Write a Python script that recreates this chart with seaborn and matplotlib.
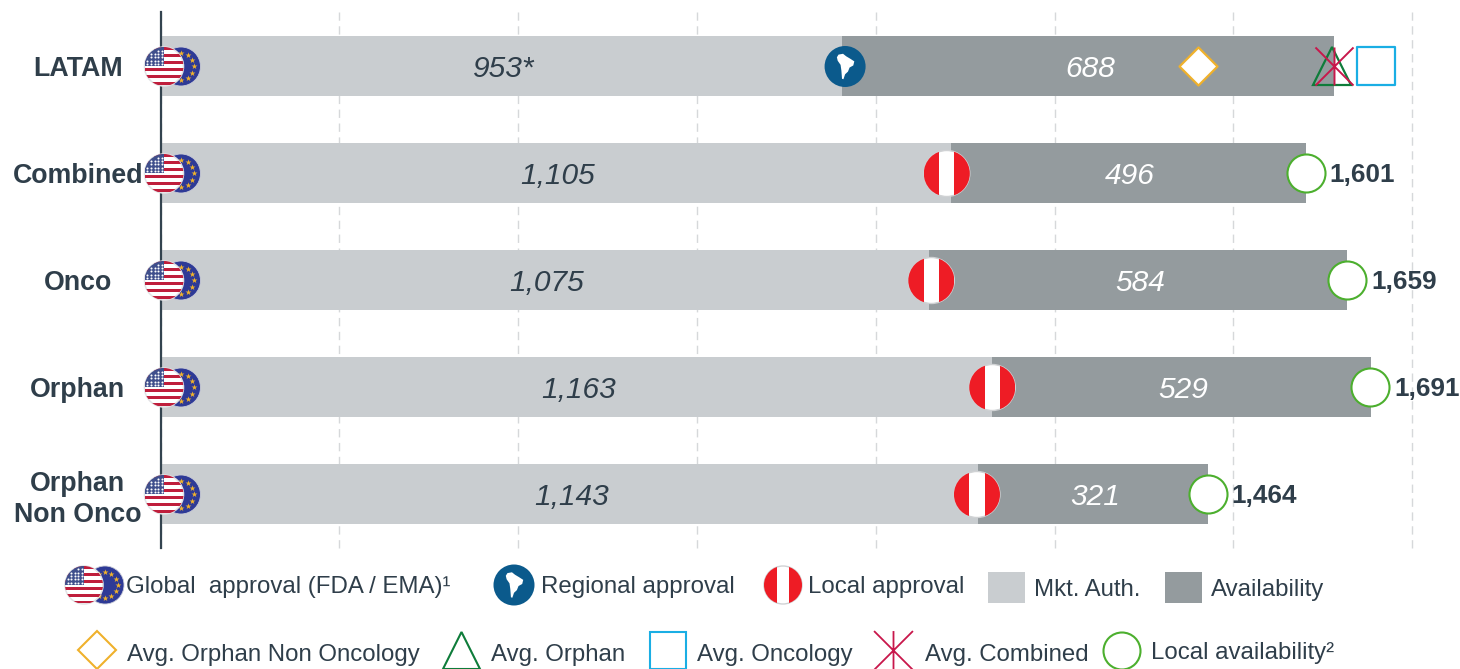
import numpy as np
import pandas as pd
import matplotlib
matplotlib.use("Agg")
import matplotlib.pyplot as plt
import seaborn as sns
from matplotlib.patches import Circle, Polygon, Rectangle
from matplotlib.path import Path

# ---------- data ----------
categories = ["LATAM", "Combined", "Onco", "Orphan", "Orphan\nNon Onco"]
mkt_auth = [953, 1105, 1075, 1163, 1143]
availability = [688, 496, 584, 529, 321]
mkt_labels = ["953*", "1,105", "1,075", "1,163", "1,143"]
avail_labels = ["688", "496", "584", "529", "321"]
totals = [1601, 1659, 1691, 1464]
total_labels = ["1,601", "1,659", "1,691", "1,464"]
avg_orphan_non_onco = 1451
avg_orphan = 1638
avg_oncology = 1699
avg_combined = 1641
x_ticks = [0, 250, 500, 750, 1000, 1250, 1500, 1750]

# ---------- style ----------
W, H = 1460, 669
C_MA, C_AV = "#C9CDD0", "#949B9E"
C_TXT = "#2F3E4A"
C_DIA, C_TRI, C_SQ, C_X, C_CIR = "#EFB12C", "#0E7C3A", "#1AAEE4", "#C8174B", "#4CAF2E"
FONT = "Liberation Sans"
PEAK = Path([(-.5, -.5), (.5, .5), (-.5, .5), (.5, -.5), (0, -.5), (0, .5)],
            [1, 2, 1, 2, 1, 2])

sns.set_theme(style="white")
plt.rcParams["font.family"] = [FONT, "DejaVu Sans"]
fig = plt.figure(figsize=(W / 100, H / 100), dpi=100)
ax = fig.add_axes([160.5 / W, 1 - 548 / H, 1251.6 / W, 536 / H])
ax.patch.set_alpha(0)

df = pd.DataFrame({"cat": categories, "ma": mkt_auth, "av": availability})
sns.barplot(data=df, y="cat", x="ma", color=C_MA, saturation=1, width=60 / 107, linewidth=0, ax=ax, zorder=2)
sns.barplot(data=df, y="cat", x="av", left=df["ma"], color=C_AV, saturation=1, width=60 / 107, linewidth=0, ax=ax, zorder=2)

ax.set_xlim(0, 1750)
ax.set_ylim(4.5, -0.5093)
ax.set_xlabel("")
ax.set_ylabel("")
ax.set_xticks(x_ticks)
ax.set_xticklabels([])
ax.tick_params(axis="both", length=0)
ax.grid(axis="x", color="#D6D8DA", linestyle=(0, (6, 4)), linewidth=1.0, zorder=0)
for gl in ax.get_xgridlines():
    gl.set_clip_on(False)
ax.set_axisbelow(True)
for s in ["top", "right", "bottom"]:
    ax.spines[s].set_visible(False)
ax.spines["left"].set_color("#33434F")
ax.spines["left"].set_linewidth(1.6)
ax.spines["left"].set_zorder(3)
ax.set_yticks(range(len(categories)))
ax.set_yticklabels(categories, fontsize=19.3, fontweight="bold", color=C_TXT,
                   ha="center", multialignment="center", linespacing=1.22)
ax.tick_params(axis="y", pad=59.5)

# value labels
for i, (m, a) in enumerate(zip(mkt_auth, availability)):
    ax.annotate(mkt_labels[i], (m / 2, i), xytext=(1.5, -1.5), textcoords="offset points",
                ha="center", va="center", fontsize=21.5, fontstyle="italic", color=C_TXT, zorder=5)
    ax.annotate(avail_labels[i], (m + a / 2, i), xytext=(1.5, -1.5), textcoords="offset points",
                ha="center", va="center", fontsize=21.5, fontstyle="italic", color="white", zorder=5)

# average and availability markers
msize = 750
sns.scatterplot(x=[avg_orphan_non_onco], y=[0], marker="D", s=375, color="white", edgecolor=C_DIA,
                linewidth=1.6, ax=ax, zorder=6, clip_on=False)
sns.scatterplot(x=[avg_oncology], y=[0], marker="s", s=msize, color="white", edgecolor=C_SQ,
                linewidth=1.6, ax=ax, zorder=6, clip_on=False)
ax.plot([avg_orphan], [0], marker="^", ms=27.4, mfc="none", mec=C_TRI, mew=1.6, ls="", zorder=6, clip_on=False)
ax.plot([avg_combined], [0], marker=PEAK, ms=27.4, mfc="none", mec=C_X, mew=1.4, ls="", zorder=7, clip_on=False)
rows = [1, 2, 3, 4]
sns.scatterplot(x=totals, y=rows, marker="o", s=msize, color="white", edgecolor=C_CIR,
                linewidth=1.5, ax=ax, zorder=6, clip_on=False)
for t, r, lab in zip(totals, rows, total_labels):
    ax.annotate(lab, (t, r), xytext=(17.5, -1.2), textcoords="offset points", ha="left", va="center",
                fontsize=18.8, fontweight="bold", color=C_TXT, zorder=6, annotation_clip=False)

# ---------- icon overlay, in pixels ----------
ov = fig.add_axes([0, 0, 1, 1])
ov.set_xlim(0, W)
ov.set_ylim(H, 0)
ov.axis("off")
ov.patch.set_alpha(0)


def to_px(v, row):
    x, y = ax.transData.transform((v, row))
    return x, H - y


def flag_eu(cx, cy, r=19.5, z=8):
    ov.add_patch(Circle((cx, cy), r, fc="#2E3A96", ec="#C9CBD6", lw=0.6, zorder=z))
    ang = np.deg2rad(np.arange(0, 360, 30))
    ov.scatter(cx + .68 * r * np.cos(ang), cy + .68 * r * np.sin(ang), marker="*", s=20,
               color="#F1B32B", lw=0, zorder=z + .1)


def flag_us(cx, cy, r=19.5, z=9):
    base = Circle((cx, cy), r, fc="white", ec="#E2E2E5", lw=1.1, zorder=z)
    ov.add_patch(base)
    h = 2 * r / 11
    for k in range(0, 11, 2):
        st = Rectangle((cx - r, cy - r + k * h), 2 * r, h * .85, fc="#BF1E3C", ec="none", zorder=z + .1)
        ov.add_patch(st)
        st.set_clip_path(base)
    can = Rectangle((cx - r, cy - r), 1.0 * r, 5.4 * h, fc="#3F4F8C", ec="none", zorder=z + .2)
    ov.add_patch(can)
    can.set_clip_path(base)
    xs, ys = np.meshgrid(np.linspace(cx - .85 * r, cx - .12 * r, 5), np.linspace(cy - .82 * r, cy - .12 * r, 5))
    mask = (xs - cx) ** 2 + (ys - cy) ** 2 < (.95 * r) ** 2
    ov.scatter(xs[mask], ys[mask], s=2.2, color="white", lw=0, zorder=z + .3)


def flag_peru(cx, cy, r=23, z=8):
    base = Circle((cx, cy), r, fc="white", ec="#D0D2D4", lw=1, zorder=z)
    ov.add_patch(base)
    for x0 in (cx - r, cx + r / 3):
        b = Rectangle((x0, cy - r), 2 * r / 3, 2 * r, fc="#EE1C25", ec="none", zorder=z + .1)
        ov.add_patch(b)
        b.set_clip_path(base)


SA = [(-.32, -.58), (-.10, -.62), (.05, -.50), (.25, -.38), (.45, -.25), (.40, -.05), (.22, .05), (.14, .25),
      (0, .38), (-.08, .62), (-.15, .60), (-.18, .20), (-.22, -.08), (-.36, -.28), (-.40, -.45)]


def flag_sa(cx, cy, r=20.5, z=8):
    ov.add_patch(Circle((cx, cy), r, fc="#0B5A8C", ec="none", zorder=z))
    ov.add_patch(Polygon([(cx + a * r, cy + b * r) for a, b in SA], fc="white", ec="none", zorder=z + .1))


# flags on the bars
for i in range(len(categories)):
    px, py = to_px(0, i)
    flag_eu(px + 20.5, py)
    flag_us(px + 3.5, py)
flag_sa(to_px(mkt_auth[0], 0)[0] + 3, to_px(0, 0)[1])
for i, nudge in zip(rows, [-4, 2, 0, -1]):
    flag_peru(to_px(mkt_auth[i], i)[0] + nudge, to_px(0, i)[1])

# legend, first row
flag_eu(105, 585, 19)
flag_us(84, 585, 19)
flag_sa(514, 585)
flag_peru(783, 585, 19)
ov.add_patch(Rectangle((988, 572), 37, 31, fc=C_MA, ec="none"))
ov.add_patch(Rectangle((1165, 572), 37, 31, fc=C_AV, ec="none"))
# legend, second row
ov.add_patch(Polygon([(97, 631), (116, 650), (97, 669), (78, 650)], fc="white", ec=C_DIA, lw=1.5))
ov.add_patch(Polygon([(461.5, 632), (480, 669), (443, 669)], fc="white", ec=C_TRI, lw=1.5, clip_on=False))
ov.add_patch(Rectangle((650, 632), 36, 37, fc="white", ec=C_SQ, lw=1.5, clip_on=False))
ov.plot([893], [650], marker=PEAK, ms=28, mfc="none", mec=C_X, mew=1.3, ls="")
ov.add_patch(Circle((1122, 651), 18.5, fc="white", ec=C_CIR, lw=1.5))

legend_items = [
    ("Global  approval (FDA / EMA)\u00b9", 126, 587),
    ("Regional approval", 541, 587),
    ("Local approval", 808, 587),
    ("Mkt. Auth.", 1034, 590),
    ("Availability", 1211, 590),
    ("Avg. Orphan Non Oncology", 127, 655),
    ("Avg. Orphan", 491, 655),
    ("Avg. Oncology", 697, 655),
    ("Avg. Combined", 925, 655),
    ("Local availability\u00b2", 1151, 653),
]
for label, x, y in legend_items:
    ov.text(x, y, label, ha="left", va="center", fontsize=17.3, color=C_TXT, zorder=12)

fig.savefig("out.png", dpi=100)
